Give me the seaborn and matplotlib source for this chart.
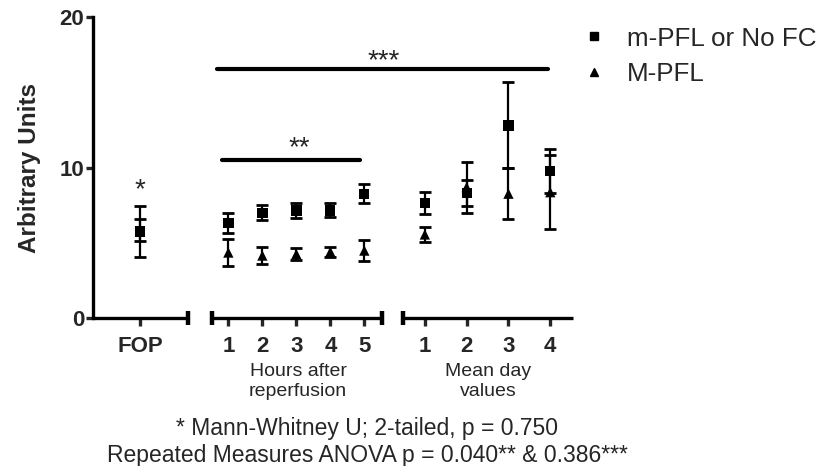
import numpy as np
import pandas as pd
import seaborn as sns
import matplotlib.pyplot as plt
from matplotlib.lines import Line2D

groups = ['m-PFL or No FC', 'M-PFL']
tick_labels = ['FOP', '1', '2', '3', '4', '5', '1', '2', '3', '4']

# mean and error; order: FOP, hours 1-5, days 1-4
low_mean = [5.75, 6.3, 7.0, 7.15, 7.15, 8.25, 7.62, 8.3, 12.8, 9.77]
low_err = [1.7, 0.67, 0.48, 0.5, 0.47, 0.63, 0.73, 0.88, 2.86, 1.46]
high_mean = [5.85, 4.35, 4.15, 4.25, 4.4, 4.48, 5.55, 8.7, 8.26, 8.36]
high_err = [0.75, 0.9, 0.55, 0.4, 0.35, 0.7, 0.48, 1.69, 1.68, 2.47]

# layout of the broken x axis
fop_x = np.array([0.0])
hour_x = np.arange(5) + 2.6
day_x = np.arange(4) * 1.23 + 8.38
xpos = np.concatenate([fop_x, hour_x, day_x])

df = pd.DataFrame({
    'x': np.concatenate([xpos, xpos]),
    'y': low_mean + high_mean,
    'err': low_err + high_err,
    'group': [groups[0]] * len(xpos) + [groups[1]] * len(xpos),
})

sns.set_style('white')
plt.rcParams['font.family'] = ['Liberation Sans', 'DejaVu Sans']

fig = plt.figure(figsize=(8.31, 4.66), dpi=100)
ax = fig.add_axes([0.112, 0.3176, 0.5776, 0.6459])

for g in groups:
    d = df[df['group'] == g]
    ax.errorbar(d['x'], d['y'], yerr=d['err'], fmt='none', ecolor='black',
                elinewidth=1.6, capsize=4.6, capthick=2.0, zorder=2)

sns.scatterplot(data=df, x='x', y='y', style='group', markers={groups[0]: 's', groups[1]: '^'},
                color='black', s=55, edgecolor='black', linewidth=0, ax=ax, legend=False, zorder=3)

ax.set_xlim(-1.38, 12.74)
ax.set_ylim(0, 20)
ax.set_yticks([0, 10, 20])
ax.set_xticks(xpos)
ax.set_xticklabels(tick_labels)
ax.set_xlabel('')
ax.set_ylabel('Arbitrary Units', fontsize=17.5, fontweight='bold', labelpad=13)

for s in ['top', 'right', 'bottom']:
    ax.spines[s].set_visible(False)
ax.spines['left'].set_linewidth(2.4)
ax.spines['left'].set_color('black')

ax.tick_params(axis='y', length=5, width=2.4, direction='out', labelsize=16, pad=1.5, left=True)
ax.tick_params(axis='x', length=6, width=2.4, direction='out', labelsize=16, pad=7, bottom=True)
plt.setp(ax.get_yticklabels(), fontweight='bold')
plt.setp(ax.get_xticklabels(), fontweight='bold')

# broken x axis segments with end caps
segments = [(-1.38, 1.41), (2.12, 7.12), (7.74, 12.74)]
for x0, x1 in segments:
    ax.plot([x0, x1], [0, 0], color='black', lw=2.4, solid_capstyle='butt', clip_on=False, zorder=4)
for xc in [1.41, 2.12, 7.12, 7.74]:
    ax.plot([xc], [0], marker='|', ms=10, mew=3.2, color='black', clip_on=False, zorder=4)

# significance bars
ax.plot([2.26, 12.0], [16.55, 16.55], color='black', lw=3.0, solid_capstyle='round')
ax.text(7.18, 16.6, '***', ha='center', va='baseline', fontsize=20)
ax.plot([2.41, 6.47], [10.5, 10.5], color='black', lw=3.0, solid_capstyle='round')
ax.text(4.7, 10.83, '**', ha='center', va='baseline', fontsize=20)
ax.text(0.0, 8.04, '*', ha='center', va='baseline', fontsize=20)

# group labels under the axis
ax.text(4.65, -0.148, 'Hours after\nreperfusion', transform=ax.get_xaxis_transform(),
        ha='center', va='top', fontsize=14, linespacing=1.3)
ax.text(10.24, -0.148, 'Mean day\nvalues', transform=ax.get_xaxis_transform(),
        ha='center', va='top', fontsize=14, linespacing=1.3)

handles = [Line2D([], [], marker='s', color='black', linestyle='none', markersize=5.5),
           Line2D([], [], marker='^', color='black', linestyle='none', markersize=6)]
fig.legend(handles, groups, loc='upper left', bbox_to_anchor=(0.6986, 0.943), frameon=False,
           fontsize=18.7, handlelength=1, handletextpad=0.8, labelspacing=0.45,
           borderpad=0, borderaxespad=0)

fig.text(0.442, 0.0665, '* Mann-Whitney U; 2-tailed, p = 0.750', ha='center', va='baseline', fontsize=16.5)
fig.text(0.442, 0.009, 'Repeated Measures ANOVA p = 0.040** & 0.386***', ha='center', va='baseline', fontsize=16.5)

fig.savefig('out.png', dpi=100)
